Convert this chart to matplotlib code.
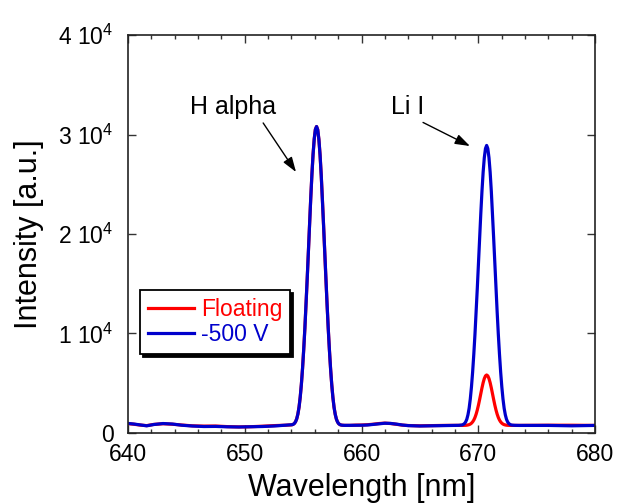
import matplotlib
matplotlib.use("Agg")
import matplotlib.pyplot as plt
from matplotlib.ticker import FixedLocator, FixedFormatter, MultipleLocator

plt.rcParams['font.family'] = ['Liberation Sans', 'DejaVu Sans']
plt.rcParams['mathtext.fontset'] = 'custom'
plt.rcParams['mathtext.rm'] = 'Liberation Sans'
plt.rcParams['mathtext.it'] = 'Liberation Sans'

# ---- spectra: wavelength [nm] and intensity [a.u.] ----
# -500 V bias
wl_bias = [
    640.0, 640.5, 641.0, 641.6, 642.2, 643.0, 643.8, 644.6, 645.5, 646.5,
    647.5, 648.5, 649.5, 650.5, 651.5, 652.5, 653.5,
    653.75, 653.95, 654.05, 654.15, 654.25, 654.35, 654.45, 654.55, 654.65, 654.75,
    654.85, 654.95, 655.05, 655.15, 655.25, 655.35, 655.45, 655.55, 655.65, 655.75,
    655.85, 655.95, 656.05, 656.15, 656.25, 656.35, 656.45, 656.55, 656.65, 656.75,
    656.85, 656.95, 657.05, 657.15, 657.25, 657.35, 657.45, 657.55, 657.65, 657.75,
    657.85, 657.95, 658.05, 658.15, 658.25, 658.35, 658.55,
    659.0, 659.5, 660.0, 660.5, 661.0, 661.5, 662.0, 662.5, 663.0,
    663.5, 664.0, 665.0, 666.0, 667.0, 668.0,
    668.32, 668.52, 668.62, 668.72, 668.82, 668.92, 669.02, 669.12, 669.22, 669.32,
    669.42, 669.52, 669.62, 669.72, 669.82, 669.92, 670.02, 670.12, 670.22, 670.32,
    670.42, 670.52, 670.62, 670.72, 670.82, 670.92, 671.02, 671.12, 671.22, 671.32,
    671.42, 671.52, 671.62, 671.72, 671.82, 671.92, 672.02, 672.12, 672.22, 672.32,
    672.42, 672.52, 672.62, 672.72, 672.82, 672.92, 673.12,
    673.5, 674.0, 675.0, 676.0, 677.0, 678.0, 679.0, 680.0,
]
int_bias = [
    960, 900, 820, 720, 850, 950, 900, 780, 700, 650,
    660, 620, 600, 620, 650, 700, 780,
    800, 810, 830, 870, 960, 1130, 1420, 1900, 2600, 3600,
    4900, 6500, 8400, 10550, 12990, 15530, 18210, 20925, 23550, 25945,
    27985, 29540, 30515, 30800, 30480, 29500, 27945, 25905, 23505, 20885,
    18170, 15490, 12950, 10520, 8370, 6470, 4870, 3570, 2570, 1870,
    1390, 1100, 930, 840, 800, 780, 765,
    770, 780, 780, 800, 860, 930, 980, 960, 890,
    800, 740, 700, 720, 740, 760,
    769, 788, 807, 863, 947, 1106, 1378, 1827, 2483, 3419,
    4637, 6135, 7914, 9927, 12176, 14555, 17063, 19605, 22060, 24306,
    26215, 27673, 28587, 28900, 28587, 27673, 26215, 24306, 22060, 19605,
    17063, 14555, 12176, 9927, 7914, 6135, 4637, 3419, 2483, 1827,
    1378, 1106, 947, 863, 807, 788, 769,
    760, 760, 760, 760, 740, 720, 740, 760,
]

# floating potential
wl_float = [
    640.0, 640.5, 641.0, 641.6, 642.2, 643.0, 643.8, 644.6, 645.5, 646.5,
    647.5, 648.5, 649.5, 650.5, 651.5, 652.5, 653.5,
    653.75, 653.95, 654.05, 654.15, 654.25, 654.35, 654.45, 654.55, 654.65, 654.75,
    654.85, 654.95, 655.05, 655.15, 655.25, 655.35, 655.45, 655.55, 655.65, 655.75,
    655.85, 655.95, 656.05, 656.15, 656.25, 656.35, 656.45, 656.55, 656.65, 656.75,
    656.85, 656.95, 657.05, 657.15, 657.25, 657.35, 657.45, 657.55, 657.65, 657.75,
    657.85, 657.95, 658.05, 658.15, 658.25, 658.35, 658.55,
    659.0, 659.5, 660.0, 660.5, 661.0, 661.5, 662.0, 662.5, 663.0,
    663.5, 664.0, 665.0, 666.0, 667.0, 668.0,
    668.72, 668.92, 669.02, 669.12, 669.22, 669.32,
    669.42, 669.52, 669.62, 669.72, 669.82, 669.92, 670.02, 670.12, 670.22, 670.32,
    670.42, 670.52, 670.62, 670.72, 670.82, 670.92, 671.02, 671.12, 671.22, 671.32,
    671.42, 671.52, 671.62, 671.72, 671.82, 671.92, 672.02, 672.12, 672.22, 672.32,
    672.42, 672.52, 672.72,
    673.5, 674.0, 675.0, 676.0, 677.0, 678.0, 679.0, 680.0,
]
int_float = [
    940, 880, 800, 740, 860, 930, 880, 800, 720, 690,
    700, 640, 610, 630, 680, 740, 780,
    800, 810, 830, 870, 960, 1130, 1420, 1900, 2600, 3600,
    4900, 6500, 8400, 10550, 12990, 15530, 18210, 20925, 23550, 25945,
    27985, 29540, 30515, 30800, 30480, 29500, 27945, 25905, 23505, 20885,
    18170, 15490, 12950, 10520, 8370, 6470, 4870, 3570, 2570, 1870,
    1390, 1100, 930, 840, 800, 780, 765,
    760, 790, 800, 830, 880, 950, 990, 950, 870,
    790, 750, 720, 740, 760, 765,
    763, 773, 784, 805, 839, 895,
    983, 1114, 1301, 1558, 1894, 2313, 2809, 3366, 3953, 4532,
    5053, 5469, 5737, 5830, 5737, 5469, 5053, 4532, 3953, 3366,
    2809, 2313, 1894, 1558, 1301, 1114, 983, 895, 839, 805,
    784, 773, 763,
    760, 765, 770, 780, 780, 780, 770, 760,
]

series_labels = ['Floating', '-500 V']
series_colors = ['#ff0000', '#0000cc']

x_ticks = [640, 650, 660, 670, 680]
y_ticks = [0, 10000, 20000, 30000, 40000]
y_tick_labels = ['0', r'1 10$^{4}$', r'2 10$^{4}$', r'3 10$^{4}$', r'4 10$^{4}$']

fig = plt.figure(figsize=(6.17, 5.03), dpi=100)
ax = fig.add_axes([0.2075, 0.1392, 0.7568, 0.7912])

ax.plot(wl_float, int_float, color=series_colors[0], lw=2.3, label=series_labels[0])
ax.plot(wl_bias, int_bias, color=series_colors[1], lw=2.3, label=series_labels[1])

ax.set_xlim(640, 680)
ax.set_ylim(0, 40000)
ax.xaxis.set_major_locator(FixedLocator(x_ticks))
ax.xaxis.set_minor_locator(MultipleLocator(2))
ax.yaxis.set_major_locator(FixedLocator(y_ticks))
ax.yaxis.set_major_formatter(FixedFormatter(y_tick_labels))

ax.tick_params(which='both', direction='in', top=True, right=True, width=1,
               color='#333333')
ax.tick_params(which='major', length=6, labelsize=16.5)
ax.tick_params(which='minor', length=3)
ax.tick_params(axis='x', which='major', pad=7)
ax.tick_params(axis='y', which='major', pad=10.5)
ax.tick_params(axis='y', which='minor', left=False, right=False)
for sp in ax.spines.values():
    sp.set_linewidth(1.2)
    sp.set_color('#222222')

ax.set_xlabel('Wavelength [nm]', fontsize=22, labelpad=5)
ax.set_ylabel('Intensity [a.u.]', fontsize=22, labelpad=10)

arrow_kw = dict(arrowstyle='-|>,head_length=0.5,head_width=0.17', color='black',
                lw=1.0, shrinkA=1, shrinkB=0)
ax.annotate('H alpha', xy=(654.39, 26230), xytext=(648.99, 32760),
            ha='center', va='center', fontsize=18,
            arrowprops=dict(relpos=(0.82, 0.0), **arrow_kw))
ax.annotate('Li I', xy=(669.29, 28840), xytext=(663.98, 32760),
            ha='center', va='center', fontsize=18,
            arrowprops=dict(relpos=(0.75, 0.0), **arrow_kw))

leg = ax.legend(loc='lower left', bbox_to_anchor=(0.026, 0.198), fontsize=16.5,
                frameon=True, fancybox=False, shadow={'color': 'black', 'alpha': 1.0},
                edgecolor='black', handlelength=2.0, handletextpad=0.3,
                borderpad=0.35, labelspacing=0.1, borderaxespad=0)
leg.get_frame().set_linewidth(1.3)
for txt, c in zip(leg.get_texts(), series_colors):
    txt.set_color(c)

fig.savefig('out.png', dpi=100)
